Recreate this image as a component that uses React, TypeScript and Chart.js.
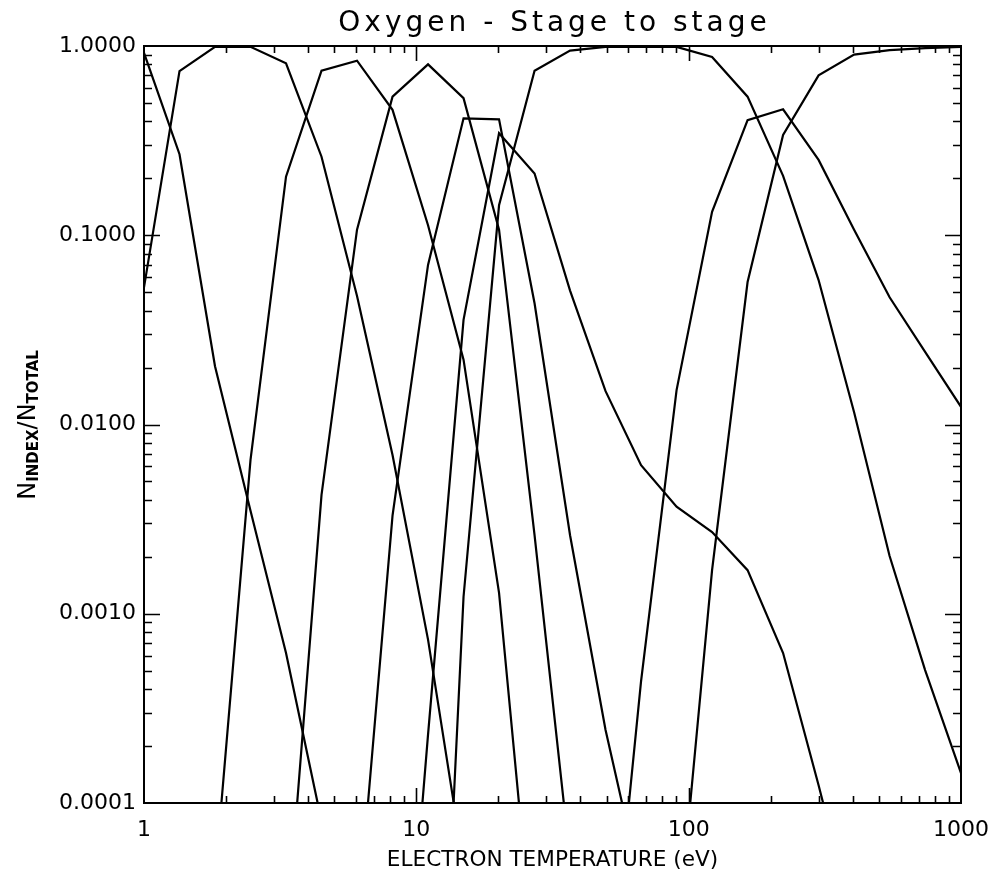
import { useEffect, useRef } from "react";
import { Chart, registerables } from "chart.js";

Chart.register(...registerables);

// Electron temperature grid (eV), 24 log-spaced points from 1 to 1000
const temperatures = [
  1, 1.3501, 1.8228, 2.461, 3.3226, 4.4859, 6.0564, 8.1768, 11.04, 14.905, 20.124, 27.17,
  36.682, 49.525, 66.865, 90.276, 121.88, 164.56, 222.17, 299.96, 404.98, 546.77, 738.2, 1000,
];

// Ionisation fractions N_INDEX / N_TOTAL for each oxygen stage
const stageO1 = [0.92, 0.268, 0.0203, 0.0035, 0.00062, 0.00008, null, null, null, null, null, null, null, null, null, null, null, null, null, null, null, null, null, null];
const stageO2 = [0.053, 0.737, 0.99, 0.99, 0.81, 0.26, 0.0478, 0.0069, 0.00073, 0.000047, null, null, null, null, null, null, null, null, null, null, null, null, null, null];
const stageO3 = [null, null, 0.00004, 0.0065, 0.204, 0.74, 0.836, 0.46, 0.113, 0.022, 0.00129, 0.0000135, null, null, null, null, null, null, null, null, null, null, null, null];
const stageO4 = [null, null, null, null, 0.000018, 0.00425, 0.107, 0.54, 0.8, 0.53, 0.107, 0.0026, 0.00005, null, null, null, null, null, null, null, null, null, null, null];
const stageO5 = [null, null, null, null, null, null, 0.000021, 0.0033, 0.0697, 0.415, 0.41, 0.0437, 0.0026, 0.000243, 0.000036, null, null, null, null, null, null, null, null, null];
const stageO6 = [null, null, null, null, null, null, null, 0.0000012, 0.00023, 0.0357, 0.346, 0.212, 0.051, 0.015, 0.0061, 0.00368, 0.0027, 0.0017, 0.00062, 0.000124, 0.000023, null, null, null];
const stageO7 = [null, null, null, null, null, null, null, null, 0.00000016, 0.00123, 0.144, 0.74, 0.945, 0.99, 0.99, 0.99, 0.875, 0.54, 0.206, 0.058, 0.0116, 0.00202, 0.000504, 0.000144];
const stageO8 = [null, null, null, null, null, null, null, null, null, null, null, null, null, 0.0000058, 0.00044, 0.0152, 0.133, 0.406, 0.463, 0.25, 0.107, 0.047, 0.0242, 0.0124];
const stageO9 = [null, null, null, null, null, null, null, null, null, null, null, null, null, null, null, 0.000017, 0.0017, 0.0566, 0.339, 0.7, 0.9, 0.95, 0.975, 0.99];

const stages = [stageO1, stageO2, stageO3, stageO4, stageO5, stageO6, stageO7, stageO8, stageO9];

const xTickValues = [1, 10, 100, 1000];
const yTickValues = [0.0001, 0.001, 0.01, 0.1, 1];

const chartTitle = "Oxygen - Stage to stage";
const xAxisTitle = "ELECTRON TEMPERATURE (eV)";

const FONT = '"DejaVu Sans", sans-serif';

// Frame on all four sides with inward major/minor log ticks
const framePlugin = {
  id: "frameTicks",
  afterDatasetsDraw(chart: any) {
    const { ctx, chartArea, scales } = chart;
    const { left, right, top, bottom } = chartArea;
    const xs = scales.x;
    const ys = scales.y;
    ctx.save();
    ctx.strokeStyle = "#000";
    ctx.lineWidth = 2;
    ctx.lineCap = "butt";
    ctx.strokeRect(left, top, right - left, bottom - top);
    ctx.lineWidth = 1.6;
    ctx.beginPath();
    for (let d = 1; d <= 100; d *= 10) {
      for (let m = 1; m <= 9; m++) {
        const v = d * m;
        if (v <= 1 || v >= 1000) continue;
        const px = Math.round(xs.getPixelForValue(v)) + 0.5;
        const len = m === 1 ? 15 : 7;
        ctx.moveTo(px, bottom);
        ctx.lineTo(px, bottom - len);
        ctx.moveTo(px, top);
        ctx.lineTo(px, top + len);
      }
    }
    for (let d = 0.0001; d < 1; d *= 10) {
      for (let m = 1; m <= 9; m++) {
        const v = d * m;
        if (v <= 0.0001 * 1.0001 || v >= 0.9999) continue;
        const py = Math.round(ys.getPixelForValue(v)) + 0.5;
        const len = m === 1 ? 16 : 8;
        ctx.moveTo(left, py);
        ctx.lineTo(left + len, py);
        ctx.moveTo(right, py);
        ctx.lineTo(right - len, py);
      }
    }
    ctx.stroke();
    ctx.restore();
  },
  afterDraw(chart: any) {
    const { ctx, chartArea } = chart;
    ctx.save();
    ctx.fillStyle = "#000";
    // Chart title
    ctx.font = `28px ${FONT}`;
    (ctx as any).letterSpacing = "4px";
    ctx.textAlign = "center";
    ctx.textBaseline = "alphabetic";
    ctx.fillText(chartTitle, (chartArea.left + chartArea.right) / 2 + 2, 31);
    (ctx as any).letterSpacing = "0px";

    // Y-axis title with subscripts: N_INDEX / N_TOTAL
    const parts = [
      { t: "N", font: `24px ${FONT}`, dy: 0 },
      { t: "INDEX", font: `bold 15px ${FONT}`, dy: 3 },
      { t: "/", font: `24px ${FONT}`, dy: 0 },
      { t: "N", font: `24px ${FONT}`, dy: 0 },
      { t: "TOTAL", font: `bold 15px ${FONT}`, dy: 3 },
    ];
    let total = 0;
    const widths = parts.map((p) => {
      ctx.font = p.font;
      const w = ctx.measureText(p.t).width;
      total += w;
      return w;
    });
    ctx.translate(35, 425);
    ctx.rotate(-Math.PI / 2);
    ctx.textAlign = "left";
    let x = -total / 2;
    parts.forEach((p, i) => {
      ctx.font = p.font;
      ctx.fillText(p.t, x, p.dy);
      x += widths[i];
    });
    ctx.restore();
  },
};

export default function App() {
  const canvasRef = useRef<HTMLCanvasElement | null>(null);

  useEffect(() => {
    const canvas = canvasRef.current;
    if (!canvas) return;
    const datasets = stages.map((vals, si) => ({
      label: `O ${si + 1}`,
      data: temperatures.map((t, i) => ({ x: t, y: vals[i] })),
      borderColor: "#000",
      backgroundColor: "#000",
      borderWidth: 2.2,
      pointRadius: 0,
      tension: 0,
      fill: false,
      spanGaps: false,
    }));

    const chart = new Chart(canvas, {
      type: "line",
      data: { datasets },
      plugins: [framePlugin],
      options: {
        responsive: false,
        animation: false,
        events: [],
        layout: { padding: { left: 0, top: 46, right: 40, bottom: 0 } },
        plugins: {
          legend: { display: false },
          tooltip: { enabled: false },
          title: { display: false },
        },
        scales: {
          x: {
            type: "logarithmic",
            min: 1,
            max: 1000,
            grid: { display: false, drawTicks: false },
            border: { display: false },
            afterBuildTicks: (scale: any) => {
              scale.ticks = xTickValues.map((v) => ({ value: v }));
            },
            afterFit: (scale: any) => {
              scale.height = 78;
            },
            ticks: {
              color: "#000",
              font: { family: FONT, size: 22 },
              padding: 14,
              maxRotation: 0,
              autoSkip: false,
              callback: (v: any) => String(v),
            },
            title: {
              display: true,
              text: xAxisTitle,
              color: "#000",
              font: { family: FONT, size: 21.6 },
              padding: { top: 0, bottom: 8 },
            },
          },
          y: {
            type: "logarithmic",
            min: 0.0001,
            max: 1,
            grid: { display: false, drawTicks: false },
            border: { display: false },
            afterBuildTicks: (scale: any) => {
              scale.ticks = yTickValues.map((v) => ({ value: v }));
            },
            afterFit: (scale: any) => {
              scale.width = 144;
            },
            ticks: {
              color: "#000",
              font: { family: FONT, size: 22 },
              padding: 8,
              autoSkip: false,
              callback: (v: any) => Number(v).toFixed(4),
            },
          },
        },
      } as any,
    });
    return () => chart.destroy();
  }, []);

  return (
    <div style={{ position: "fixed", left: 0, top: 0, width: 1003, height: 881, background: "#fff" }}>
      <canvas ref={canvasRef} width={1003} height={881} style={{ display: "block" }} />
    </div>
  );
}
